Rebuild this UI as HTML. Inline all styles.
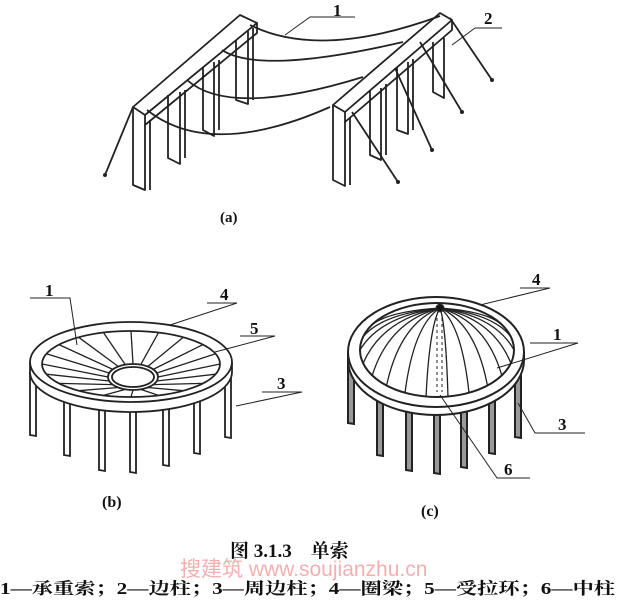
<!DOCTYPE html>
<html><head><meta charset="utf-8"><style>
html,body{margin:0;padding:0;background:#fff;}
svg{display:block}
text{font-family:"Liberation Serif","Noto Serif CJK SC",serif;fill:#111;}
</style></head><body>
<svg id="s" width="617" height="600" viewBox="0 0 617 600" xmlns="http://www.w3.org/2000/svg">
<g fill="none" stroke="#222" stroke-width="1.8" stroke-linejoin="round">
<path d="M133,107 L240,15 L257,23 L145,115 Z M145,115 L145,125 L257,33 L257,23"/>
<path d="M133,107 L133,185 L145,190 L145,125 M150,120 L150,190"/>
<path d="M168,95 L168,158 L180,164 L180,92 M185,90 L185,158" />
<path d="M203,67 L203,130 L214,136 L214,62 M219,60 L219,130"/>
<path d="M236,40 L236,100 L248,104 L248,31 M253,28 L253,100"/>
<path d="M333,105 L440,13 L452,20 L345,112 Z M345,112 L345,122 L452,30 L452,20"/>
<path d="M333,105 L333,180 L345,186 L345,122 M350,118 L350,185"/>
<path d="M370,90 L370,155 L381,160 L381,88 M386,84 L386,155"/>
<path d="M397,67 L397,130 L408,134 L408,62 M413,59 L413,130"/>
<path d="M433,42 L433,92 L444,98 L444,38"/>
<path d="M250,25 Q320,60 440,16"/>
<path d="M222,50 Q260,75 403,42"/>
<path d="M187,80 Q230,118 363,77"/>
<path d="M147,110 Q210,160 330,107"/>
<path d="M133,107 L105,175 M450,18 L492,80 M420,42 L462,112 M395,68 L432,150 M352,112 L398,182"/>
<path d="M285,35 L310,17 L355,17 M452,45 L475,28 L502,28" stroke-width="1"/>
</g>
<g fill="#222"><circle cx="105" cy="175" r="2"/><circle cx="492" cy="80" r="2"/><circle cx="462" cy="112" r="2"/><circle cx="432" cy="150" r="2"/><circle cx="398" cy="182" r="2"/></g>
<text x="333" y="16" font-size="17" font-weight="bold">1</text>
<text x="484" y="24" font-size="17" font-weight="bold">2</text>
<text x="220" y="222" font-size="15" font-weight="bold">(a)</text>

<g id="b" fill="none" stroke="#222" stroke-width="1.8"></g>
<g id="c" fill="none" stroke="#222" stroke-width="1.8"></g>

<g fill="none" stroke="#222" stroke-width="1">
<path d="M30,298 L70,298 L77,345 M207,303 L237,303 L170,325 M240,336 L275,336 L215,352 M262,392 L302,392 L236,406"/>
<path d="M520,288 L550,288 L480,305 M530,343 L578,343 L497,368 M518,403 L535,433 L585,433 M440,395 L497,478 L530,478"/>
</g>
<text x="45" y="296" font-size="17" font-weight="bold">1</text>
<text x="220" y="300" font-size="17" font-weight="bold">4</text>
<text x="250" y="334" font-size="17" font-weight="bold">5</text>
<text x="277" y="389" font-size="17" font-weight="bold">3</text>
<text x="102" y="507" font-size="16" font-weight="bold">(b)</text>
<text x="532" y="285" font-size="17" font-weight="bold">4</text>
<text x="553" y="340" font-size="17" font-weight="bold">1</text>
<text x="558" y="430" font-size="17" font-weight="bold">3</text>
<text x="504" y="475" font-size="17" font-weight="bold">6</text>
<text x="421" y="516" font-size="16" font-weight="bold">(c)</text>

<text x="230" y="557" font-size="19" font-weight="bold">图 3.1.3　单索</text>
<text x="180" y="576" font-size="21" style="fill:#f4b0b0;font-family:'Liberation Sans','Noto Sans CJK SC',sans-serif">搜建筑 www.soujianzhu.cn</text>
<text x="0" y="594" font-size="16.5" font-weight="bold" textLength="615" lengthAdjust="spacingAndGlyphs">1—承重索；2—边柱；3—周边柱；4—圈梁；5—受拉环；6—中柱</text>
</svg>
<script>
var NS="http://www.w3.org/2000/svg";
function el(p,t,a){var e=document.createElementNS(NS,t);for(var k in a)e.setAttribute(k,a[k]);p.appendChild(e);return e;}
var b=document.getElementById('b');
var bc=[[33,372,435],[67,398,455],[102,405,470],[133,407,472],[166,405,465],[197,398,453],[228,372,437]];
bc.forEach(function(c){el(b,'path',{d:'M'+(c[0]-3)+','+c[1]+' L'+(c[0]-3)+','+c[2]+' L'+(c[0]+3)+','+(c[2]+1)+' L'+(c[0]+3)+','+c[1],fill:'#fff'});});
el(b,'path',{d:'M30,362 L30,372 A101,40 0 0 0 232,372 L232,362',fill:'#fff'});
el(b,'ellipse',{cx:131,cy:362,rx:101,ry:40,fill:'#fff'});
el(b,'ellipse',{cx:131,cy:364,rx:89,ry:33});
for(var i=0;i<20;i++){var a=i/20*Math.PI*2;
 var x1=133+25*Math.cos(a),y1=377+13*Math.sin(a),x2=131+89*Math.cos(a),y2=364+33*Math.sin(a);
 el(b,'line',{x1:x1,y1:y1,x2:x2,y2:y2,'stroke-width':1.3});}
el(b,'ellipse',{cx:133,cy:377,rx:25,ry:13,fill:'#fff'});
el(b,'ellipse',{cx:133,cy:377,rx:21,ry:10});
var c=document.getElementById('c');
var cc=[[351,352,423],[380,400,455],[409,405,470],[437,408,473],[464,405,467],[492,400,453],[518,352,437]];
cc.forEach(function(q){el(c,'path',{d:'M'+(q[0]-3)+','+q[1]+' L'+(q[0]-3)+','+q[2]+' L'+(q[0]+3)+','+(q[2]+1)+' L'+(q[0]+3)+','+q[1],fill:'#999','stroke-width':2});});
el(c,'path',{d:'M348,352 L348,360 A88,55 0 0 0 524,360 L524,352',fill:'#fff','stroke-width':2});
el(c,'ellipse',{cx:436,cy:352,rx:88,ry:55,fill:'#fff','stroke-width':2});
el(c,'ellipse',{cx:437,cy:350,rx:77,ry:47,'stroke-width':2});
for(var i=0;i<22;i++){var a=i/22*Math.PI*2;
 var x2=437+77*Math.cos(a),y2=350+47*Math.sin(a);
 if(y2<315) continue;
 var qx=440+(x2-440)*0.75, qy=308+(y2-308)*0.2;
 el(c,'path',{d:'M440,308 Q'+qx+','+qy+' '+x2+','+y2,'stroke-width':1.3});}
el(c,'circle',{cx:440,cy:308,r:3.5,fill:'#111'});
el(c,'line',{x1:437,y1:318,x2:437,y2:392,'stroke-dasharray':'3,3','stroke-width':1});
el(c,'line',{x1:442,y1:318,x2:442,y2:392,'stroke-dasharray':'3,3','stroke-width':1});
</script>
</body></html>
